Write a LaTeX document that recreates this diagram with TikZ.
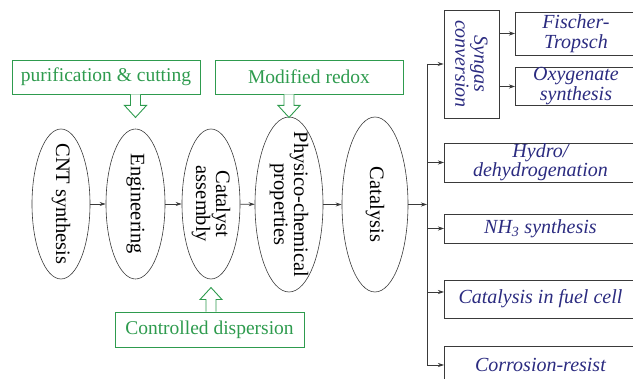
\documentclass[tikz,border=0pt]{standalone}
\usepackage{fontspec}
\setmainfont{Liberation Serif}
\newfontfamily\timesA{Liberation Serif}
\usepackage{xcolor}
\usepackage{tikz}
\usetikzlibrary{arrows.meta,calc,shapes.geometric}
\definecolor{greenN}{HTML}{2E9B4E}
\definecolor{navyA}{HTML}{2B2B80}
\definecolor{lineG}{HTML}{3A3A3A}

\begin{document}
\begin{tikzpicture}[
    x=1pt, y=-1pt,
    stage/.style={ellipse, draw=lineG, line width=0.6pt, rotate=-90, inner xsep=-25pt, inner ysep=0pt,
        align=center, font=\timesA\fontsize{20.5}{20}\selectfont},
    note/.style={rectangle, draw=greenN, line width=0.9pt, text=greenN, minimum height=34, inner sep=0pt,
        font=\timesA\fontsize{19.5}{20}\selectfont},
    app/.style={rectangle, draw=lineG, line width=0.9pt, text=navyA, anchor=west, align=center, inner sep=0pt,
        font=\timesA\fontsize{20}{20}\selectfont\itshape},
    hollow/.style={draw=greenN, line width=0.9pt, fill=white},
    link/.style={draw=lineG, line width=0.7pt, -{Stealth[length=6pt,width=4pt]}}
]
\useasboundingbox (0,0) rectangle (633,379);
\clip (0,0) rectangle (633,379);

% chain of stages
\node[stage, minimum width=150, minimum height=58] (cnt) at (61,204) {CNT synthesis};
\node[stage, minimum width=150, minimum height=59] (eng) at (135.5,204) {Engineering};
\node[stage, minimum width=150, minimum height=58] (asm) at (211,204) {Catalyst\\assembly};
\node[stage, minimum width=175, minimum height=68] (phy) at (289,204.5) {Physico-chemical\\properties};
\node[stage, minimum width=175, minimum height=66] (cat) at (375,204.5) {Catalysis};

\draw[link] (cnt) -- (eng);
\draw[link] (eng) -- (asm);
\draw[link] (asm) -- (phy);
\draw[link] (phy) -- (cat);

% green treatments
\node[note, minimum width=188] (pur) at (106,77) {purification \& cutting};
\node[note, minimum width=188] (mod) at (309,77) {Modified redox};
\node[note, minimum width=189, minimum height=35] (dis) at (209.5,329.5) {Controlled dispersion};

\draw[hollow] (pur.south -| eng) ++(-5,0) -- ++(0,11) -- ++(-6,0) -- ++(11,12) -- ++(11,-12) -- ++(-6,0) -- ++(0,-11);
\draw[hollow] (mod.south -| phy) ++(-5,0) -- ++(0,11) -- ++(-6,0) -- ++(11,12) -- ++(11,-12) -- ++(-6,0) -- ++(0,-11);
\draw[hollow] (dis.north -| asm) ++(-5,0) -- ++(0,-12) -- ++(-6,0) -- ++(11,-12) -- ++(11,12) -- ++(-6,0) -- ++(0,12);

% applications
\node[app, rotate=-90, anchor=center, minimum width=108, minimum height=55,
    font=\timesA\fontsize{20}{19}\selectfont\itshape] (syn) at (471.5,64) {Syngas\\conversion};
\node[app, minimum width=121, minimum height=43] (fis) at (515,33.5) {Fischer-\\Tropsch};
\node[app, minimum width=121, minimum height=37] (oxy) at (515,86.5) {Oxygenate\\synthesis};
\node[app, minimum width=192, minimum height=39, font=\timesA\fontsize{20}{17}\selectfont\itshape] (hyd) at (444,162.5) {Hydro/\\dehydrogenation};
\node[app, minimum width=192, minimum height=29] (nh3) at (444,228.5) {NH\textsubscript{3} synthesis};
\node[app, minimum width=192, minimum height=38] (fuel) at (444,299) {Catalysis in fuel cell};
\node[app, minimum width=192, minimum height=38] (corr) at (444,365) {Corrosion-resist};

% distribution bus
\coordinate (bus) at (427,0);
\draw[link] (cat) -- (cat -| bus);
\draw[draw=lineG, line width=0.7pt] (syn -| bus) -- (corr -| bus);
\draw[link] (syn -| bus) -- (syn);
\draw[link] (hyd -| bus) -- (hyd);
\draw[link] (nh3 -| bus) -- (nh3);
\draw[link] ([yshift=7pt]fuel.west -| bus) -- ([yshift=7pt]fuel.west);
\draw[link] (corr -| bus) -- (corr);
% syn is turned, so its north is the right side
\draw[link] (syn.north |- fis) -- (fis);
\draw[link] (syn.north |- oxy) -- (oxy);
\end{tikzpicture}
\end{document}
